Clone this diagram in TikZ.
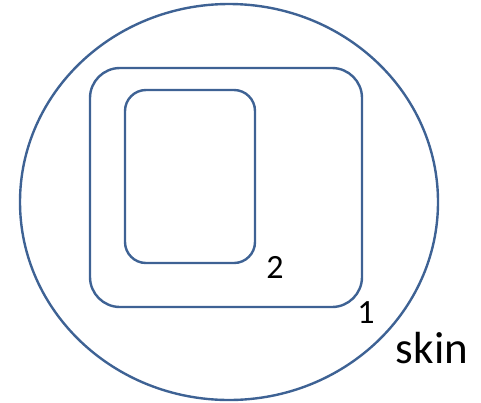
\documentclass[tikz,border=0pt]{standalone}
\usepackage{fontspec}
\setmainfont{Carlito}
\usetikzlibrary{shapes.geometric}
\definecolor{linecol}{RGB}{62,98,148}
\begin{document}
\begin{tikzpicture}[x=1pt,y=-1pt,every node/.style={inner sep=0pt,outer sep=0pt}]
\tikzset{layer/.style={draw=linecol,line width=2.4pt,rounded corners}}
\useasboundingbox (0,0) rectangle (481,402);
\node[ellipse,draw=linecol,line width=2.4pt,minimum width=418pt,minimum height=396pt](skin) at (229,202){};
\node[layer,rounded corners=30pt,minimum width=272pt,minimum height=239pt](l1) at (226,187.5){};
\node[layer,rounded corners=21pt,minimum width=130pt,minimum height=173pt](l2) at (190,176.5){};

\node[font=\fontsize{34}{34}\selectfont](t2) at (275,267){2};
\node[font=\fontsize{34}{34}\selectfont](t1) at (366,313){1};
\node[font=\fontsize{45}{45}\selectfont](ts) at (432,348){skin};
\end{tikzpicture}
\end{document}
